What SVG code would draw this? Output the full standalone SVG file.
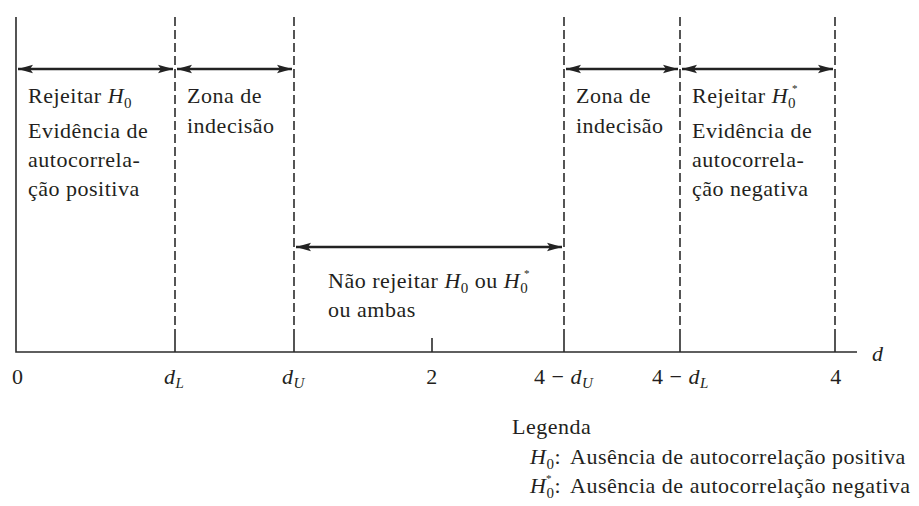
<svg xmlns="http://www.w3.org/2000/svg" width="919" height="506" viewBox="0 0 919 506">
<style>
text{font-family:"Liberation Serif","Times New Roman",serif;font-size:22px;fill:#231f20;letter-spacing:0.5px}
.i{font-style:italic}
.sub{font-size:15px;font-style:normal}
.sub.i{font-style:italic}
.st{font-size:11px;font-style:normal}
.ln{stroke:#2b2b2b;stroke-width:1.6;fill:none}
.dash{stroke:#2b2b2b;stroke-width:1.6;stroke-dasharray:9 4;fill:none}
.arr{stroke:#222;stroke-width:2.6;fill:none;marker-start:url(#ah);marker-end:url(#ah)}
</style>
<defs>
<marker id="ah" markerUnits="userSpaceOnUse" markerWidth="16" markerHeight="10" refX="15" refY="5" orient="auto-start-reverse">
<path d="M0,0.8 L15,5 L0,9.2 L3,5 z" fill="#222"/>
</marker>
</defs>
<rect width="919" height="506" fill="#fff"/>
<g id="axis">
<path class="ln" d="M16,17 V352 H857"/>
<path class="ln" d="M175,338 V352 M294,338 V352 M432,338 V352 M564,338 V352 M680,338 V352 M835,338 V352"/>
<text x="872" y="361" class="i">d</text>
<text x="12" y="384">0</text>
<text x="164" y="384" class="i">d<tspan class="sub i" dy="4">L</tspan></text>
<text x="282" y="384" class="i">d<tspan class="sub i" dy="4">U</tspan></text>
<text x="432" y="384" text-anchor="middle">2</text>
<text x="534" y="384">4 − <tspan class="i">d</tspan><tspan class="sub i" dy="4">U</tspan></text>
<text x="652" y="384">4 − <tspan class="i">d</tspan><tspan class="sub i" dy="4">L</tspan></text>
<text x="836" y="384" text-anchor="middle">4</text>
</g>
<g id="boundaries">
<path class="dash" d="M175,17 V338 M294,17 V338 M564,17 V338 M680,17 V338 M835,17 V338"/>
</g>
<g id="connectors">
<line class="arr" x1="18" y1="69" x2="173" y2="69"/>
<line class="arr" x1="177" y1="69" x2="292" y2="69"/>
<line class="arr" x1="566" y1="69" x2="678" y2="69"/>
<line class="arr" x1="682" y1="69" x2="833" y2="69"/>
<line class="arr" x1="296" y1="247" x2="562" y2="247"/>
</g>
<g id="zone-reject-h0">
<text x="28" y="103">Rejeitar <tspan class="i">H</tspan><tspan class="sub" dy="5">0</tspan></text>
<text x="28" y="138">Evidência de</text>
<text x="28" y="167">autocorrela-</text>
<text x="28" y="196">ção positiva</text>
</g>
<g id="zone-indecision-left">
<text x="187" y="103">Zona de</text>
<text x="187" y="133">indecisão</text>
</g>
<g id="zone-no-reject">
<text x="328" y="288">Não rejeitar <tspan class="i">H</tspan><tspan class="sub" dy="5">0</tspan><tspan dy="-5"> ou </tspan><tspan class="i">H</tspan><tspan class="sub" dy="5">0</tspan></text>
<text x="524" y="277" class="st">*</text>
<text x="328" y="317">ou ambas</text>
</g>
<g id="zone-indecision-right">
<text x="576" y="103">Zona de</text>
<text x="576" y="133">indecisão</text>
</g>
<g id="zone-reject-h0star">
<text x="692" y="103">Rejeitar <tspan class="i">H</tspan><tspan class="sub" dy="5">0</tspan></text>
<text x="792" y="92" class="st">*</text>
<text x="692" y="138">Evidência de</text>
<text x="692" y="167">autocorrela-</text>
<text x="692" y="196">ção negativa</text>
</g>
<g id="legend">
<text x="512" y="434">Legenda</text>
<text x="530" y="464"><tspan class="i">H</tspan><tspan class="sub" dy="5">0</tspan><tspan dy="-5">:</tspan><tspan dx="9">Ausência de autocorrelação positiva</tspan></text>
<text x="530" y="493"><tspan class="i">H</tspan><tspan class="sub" dy="5">0</tspan><tspan dy="-5">:</tspan><tspan dx="9">Ausência de autocorrelação negativa</tspan></text>
<text x="546" y="482" class="st">*</text>
</g>
</svg>
